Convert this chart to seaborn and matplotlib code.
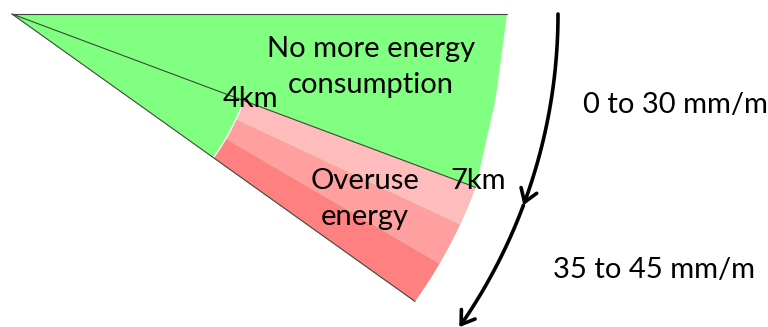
import numpy as np
import matplotlib
matplotlib.use("Agg")
import matplotlib.pyplot as plt
import seaborn as sns
from matplotlib.patches import Polygon, FancyArrowPatch
from matplotlib.path import Path

# wedge geometry (angles in degrees below the horizontal)
edge_angles = [0.0, 20.5, 35.5]          # top edge, divider line, lower edge
band_edges = [20.5, 25.2, 30.3, 35.5]    # overuse bands
band_colors = ["#FFBCBC", "#FF9F9F", "#FF8080"]
green = "#80FF80"
mark_fraction = [0.5, 1.0]               # where 4km / 7km sit along the radius
mark_labels = ["4km", "7km"]
region_labels = ["No more energy\nconsumption", "Overuse\nenergy"]
slope_labels = ["0 to 30 mm/m", "35 to 45 mm/m"]
arrow_angles = [0.0, 20.5, 35.0]         # arrow arc: start, first head, second head

sns.set_style("white")
plt.rcParams["font.family"] = ["Lato", "DejaVu Sans"]

W, H = 768, 327
fig = plt.figure(figsize=(W / 100, H / 100), dpi=100)
ax = fig.add_axes([0, 0, 1, 1])
ax.set_xlim(0, W)
ax.set_ylim(H, 0)
ax.axis("off")

apex = np.array([12.0, 14.0])
R = 495.0
R_arrow = 546.0


def pt(r, a):
    t = np.deg2rad(a)
    return apex + r * np.array([np.cos(t), np.sin(t)])


def arc(r, a0, a1, n=60):
    return np.array([pt(r, a) for a in np.linspace(a0, a1, n)])


# green wedge (outer edge of the green part is drawn nearly straight)
green_outer = np.vstack([pt(R, edge_angles[0]), pt(R - 4, 10), arc(R, edge_angles[1], edge_angles[2])])
ax.add_patch(Polygon(np.vstack([apex, green_outer]), closed=True, fc=green, ec="none", zorder=1))

# overuse bands between 4km and 7km
r_in, r_out = R * mark_fraction[0], R * mark_fraction[1]
for a0, a1, c in zip(band_edges[:-1], band_edges[1:], band_colors):
    poly = np.vstack([arc(r_in, a0, a1), arc(r_out, a1, a0)])
    ax.add_patch(Polygon(poly, closed=True, fc=c, ec="none", zorder=2))
inner = arc(r_in, band_edges[0], band_edges[-1])
ax.plot(inner[:, 0], inner[:, 1], color="white", lw=1.0, zorder=3)

# straight edges
for a in edge_angles:
    p = pt(R, a)
    ax.plot([apex[0], p[0]], [apex[1], p[1]], color="#3a4a3a", lw=0.8, zorder=4)

# curved arrows
for a0, a1 in zip(arrow_angles[:-1], arrow_angles[1:]):
    pts = arc(R_arrow, a0, a1, 40)
    ax.add_patch(FancyArrowPatch(path=Path(pts), arrowstyle="->,head_length=9,head_width=6",
                                 color="black", lw=2.6, mutation_scale=1, zorder=5))

# texts
fs = 21
kw = dict(fontsize=fs, color="black", zorder=6)
ax.text(371, 67, region_labels[0], ha="center", va="center", linespacing=1.45, **kw)
ax.text(365, 199, region_labels[1], ha="center", va="center", linespacing=1.45, **kw)
ax.text(250, 99, mark_labels[0], ha="center", va="center", **kw)
ax.text(478, 181, mark_labels[1], ha="center", va="center", **kw)
ax.text(583, 105, slope_labels[0], ha="left", va="center", **kw)
ax.text(553, 270, slope_labels[1], ha="left", va="center", **kw)

fig.savefig("out.png", dpi=100)
